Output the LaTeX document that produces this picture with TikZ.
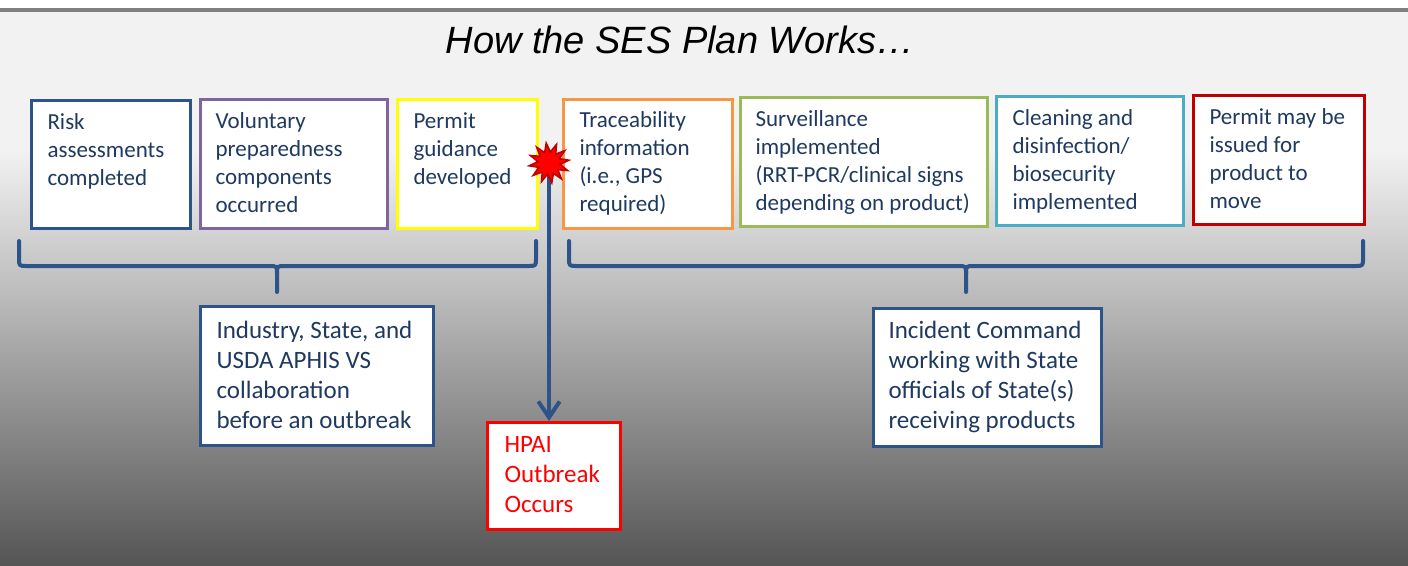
\documentclass[tikz,border=0pt]{standalone}
\usepackage{fontspec}
\setmainfont{Carlito}
\newfontfamily\titlefont{Liberation Sans}
\usetikzlibrary{shapes.geometric,arrows.meta}
\definecolor{bgtop}{HTML}{F2F2F2}
\definecolor{bgbot}{HTML}{555555}
\definecolor{barc}{HTML}{808080}
\definecolor{txtblue}{HTML}{1F3A60}
\definecolor{dblue}{HTML}{2C5489}
\definecolor{cpurple}{HTML}{8064A2}
\definecolor{cyellow}{HTML}{FFFF00}
\definecolor{corange}{HTML}{F79646}
\definecolor{cgreen}{HTML}{9BBB59}
\definecolor{ccyan}{HTML}{4BACC6}
\definecolor{cdred}{HTML}{C00000}
\definecolor{cred}{HTML}{FF0000}
\newcommand\boxtxt[5]{\parbox[c][\dimexpr#2pt*3/4\relax][t]{\dimexpr#1pt*3/4\relax}{\leftskip=\dimexpr#3pt*3/4\relax\rightskip=0pt plus 1fil\relax\parfillskip=0pt plus 1fil\relax\rule{0pt}{\dimexpr#4pt*3/4\relax}#5}}
\tikzset{
  bx/.style={draw=#1, fill=white, line width=2.25pt, inner sep=0pt, anchor=north west, text=txtblue},
  topfont/.style={font=\fontsize{17.25pt}{21pt}\selectfont},
  lowfont/.style={font=\fontsize{18.75pt}{22.5pt}\selectfont},
  brace/.style={draw=dblue, line width=3pt, line cap=round, line join=round},
  arrowline/.style={draw=dblue, line width=3pt, -{Straight Barb[length=12pt,width=16pt,line width=3pt]}},
}
\begin{document}
\begin{tikzpicture}[x=0.75pt,y=-0.75pt]
\useasboundingbox (0,0) rectangle (1408,565);
% background
\fill[white] (0,0) rectangle (1408,8);
\fill[barc] (0,8) rectangle (1408,12);
\fill[bgtop] (0,12) rectangle (1408,150);
\shade[top color=bgtop, bottom color=bgbot] (0,150) rectangle (1408,565);
% title
\node[anchor=base, font=\titlefont\itshape\fontsize{28.5pt}{32pt}\selectfont, text=black] (title) at (680,53) {How the SES Plan Works…};
% top boxes
\node[bx=dblue, topfont] (b1) at (30,99) {\boxtxt{159}{128}{16}{29}{Risk\\assessments\\completed}};
\node[bx=cpurple, topfont] (b2) at (199,98) {\boxtxt{187}{129}{15}{29}{Voluntary\\preparedness\\components\\occurred}};
\node[bx=cyellow, topfont] (b3) at (396,98) {\boxtxt{140}{129}{16}{29}{Permit\\guidance\\developed}};
\node[bx=corange, topfont] (b4) at (562,98) {\boxtxt{169}{129}{16}{28}{Traceability\\information\\(i.e., GPS\\required)}};
\node[bx=cgreen, topfont] (b5) at (739,96) {\boxtxt{247}{129}{15}{29}{Surveillance\\implemented\\(RRT-PCR/clinical signs\\depending on product)}};
\node[bx=ccyan, topfont] (b6) at (995,95) {\boxtxt{187}{129}{16}{29}{Cleaning and\\disinfection/\\biosecurity\\implemented}};
\node[bx=cdred, topfont] (b7) at (1192,94) {\boxtxt{171}{129}{16}{29}{Permit may be\\issued for\\product to\\move}};
% braces
\coordinate (ltip) at (277,292);
\coordinate (rtip) at (966,292);
\draw[brace] (19,241) -- (19,258) .. controls (19,266) .. (27,266) -- (269,266) .. controls (277,266) .. (277,274) -- (ltip);
\draw[brace] (277,274) .. controls (277,266) .. (285,266) -- (528,266) .. controls (536,266) .. (536,258) -- (536,241);
\draw[brace] (569,241) -- (569,258) .. controls (569,266) .. (577,266) -- (958,266) .. controls (966,266) .. (966,274) -- (rtip);
\draw[brace] (966,274) .. controls (966,266) .. (974,266) -- (1355,266) .. controls (1363,266) .. (1363,258) -- (1363,241);
% lower boxes
\node[bx=dblue, lowfont] (ind) at (199,305) {\boxtxt{233}{139}{16}{32}{Industry, State, and\\USDA APHIS VS\\collaboration\\before an outbreak}};
\node[bx=dblue, lowfont] (inc) at (872,307) {\boxtxt{228}{138}{15}{30}{Incident Command\\working with State\\officials of State(s)\\receiving products}};
\node[bx=cred, lowfont, text=cred] (hpai) at (486,421) {\boxtxt{133}{107}{17}{30}{HPAI\\Outbreak\\Occurs}};
% arrow and burst
\coordinate (bc) at (549,163);
\draw[arrowline] (bc) -- (bc |- hpai.north);
\node[star, star points=12, star point ratio=1.8, minimum size=30pt, inner sep=0pt, fill=cred, draw=cdred, line width=1.2pt, rotate=8] (burst) at (bc) {};
\end{tikzpicture}
\end{document}
